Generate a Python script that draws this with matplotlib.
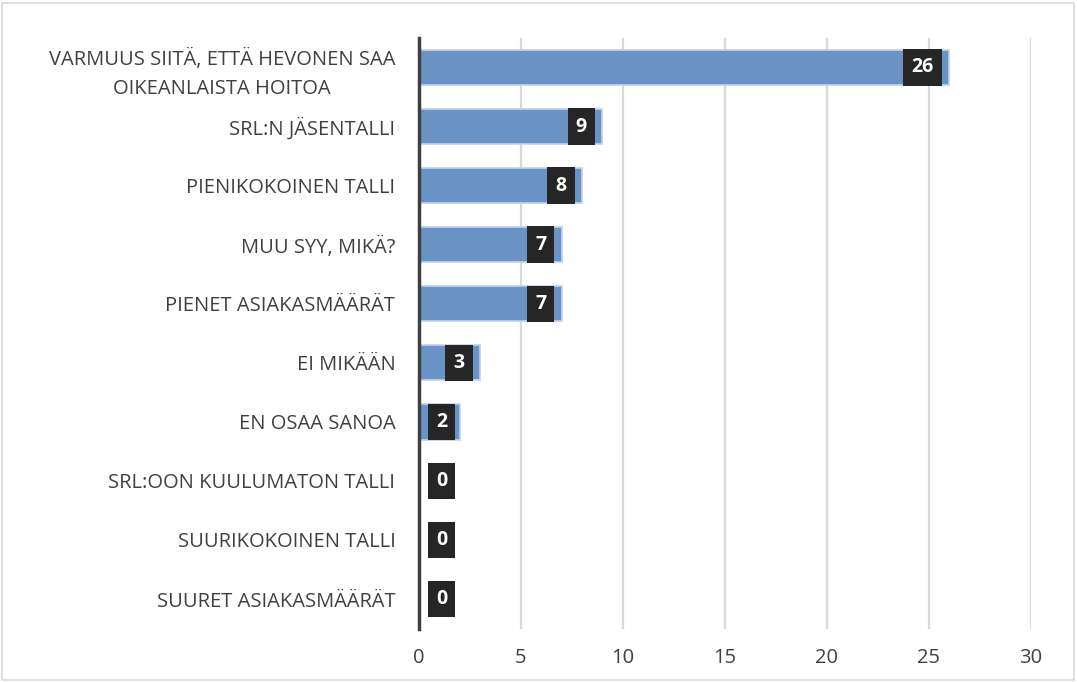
import matplotlib.pyplot as plt
from matplotlib.patches import Rectangle

categories = [
    "VARMUUS SIITÄ, ETTÄ HEVONEN SAA\nOIKEANLAISTA HOITOA",
    "SRL:N JÄSENTALLI",
    "PIENIKOKOINEN TALLI",
    "MUU SYY, MIKÄ?",
    "PIENET ASIAKASMÄÄRÄT",
    "EI MIKÄÄN",
    "EN OSAA SANOA",
    "SRL:OON KUULUMATON TALLI",
    "SUURIKOKOINEN TALLI",
    "SUURET ASIAKASMÄÄRÄT",
]
values = [26, 9, 8, 7, 7, 3, 2, 0, 0, 0]
xticks = [0, 5, 10, 15, 20, 25, 30]

plt.rcParams['font.family'] = ['Open Sans', 'DejaVu Sans']

fig = plt.figure(figsize=(10.77, 6.82), dpi=100)
ax = fig.add_axes([0.389, 0.0784, 0.568, 0.866])

ypos = list(range(len(categories)))
ax.barh(ypos, values, height=0.6, color='#6a93c6', edgecolor='#c0d2ec',
        linewidth=1.2, zorder=3)

# data labels: dark boxes at the inside end of each bar
for y, v in zip(ypos, values):
    ax.text(max(v - 0.76, 1.38), y, str(v), ha='right', va='center',
            color='white', fontsize=14, fontweight='bold', zorder=5,
            bbox=dict(boxstyle='square,pad=0.42', fc='#262626', ec='none'))

ax.set_xlim(0, 30)
ax.set_ylim(len(categories) - 0.5, -0.5)
ax.set_xticks(xticks)
ax.set_yticks(ypos)
ax.set_yticklabels(categories, ha='right', multialignment='center', linespacing=1.6)
ax.tick_params(axis='y', length=0, pad=17, labelsize=14.5, labelcolor='#404040')
ax.tick_params(axis='x', length=0, pad=14, labelsize=14.5, labelcolor='#404040')

ax.grid(axis='x', color='#d9d9d9', linewidth=1.6, zorder=0)
for s in ['top', 'right', 'bottom']:
    ax.spines[s].set_visible(False)
ax.spines['left'].set_color('#404040')
ax.spines['left'].set_linewidth(2.5)
ax.spines['left'].set_zorder(6)

fig.patches.append(Rectangle((0.002, 0.003), 0.995, 0.992, transform=fig.transFigure,
                             fill=False, edgecolor='#d9d9d9', linewidth=1.2))

fig.savefig('out.png', dpi=100)
